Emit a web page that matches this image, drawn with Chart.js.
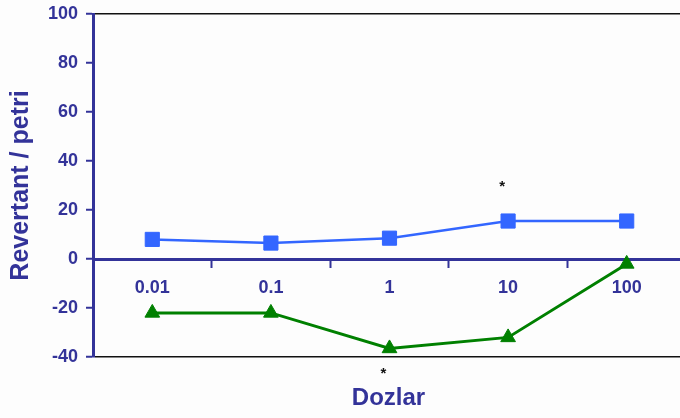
<!DOCTYPE html>
<html>
<head>
<meta charset="utf-8">
<script src="https://cdn.jsdelivr.net/npm/chart.js@4.4.1/dist/chart.umd.min.js"></script>
<style>
  html, body { margin: 0; padding: 0; background: #fdfdfd; overflow: hidden; }
  canvas { display: block; }
</style>
</head>
<body>
<canvas id="c" width="697" height="418"></canvas>
<script>
// Doses on the category axis
const doses = ['0.01', '0.1', '1', '10', '100'];
// Revertant counts per petri dish, two series
const seriesBlue = [8, 6.5, 8.5, 15.5, 15.5];
const seriesGreen = [-22, -22, -36.5, -32, -2];
// Value axis ticks
const yMin = -40;
const yMax = 100;
const yStep = 20;
// Significance marks: dose index per series
const starBlue = [3];
const starGreen = [2];

const NAVY = '#333399';
const FONT = '"Liberation Sans", Arial, sans-serif';

// Extra texts: x-axis caption and the significance asterisks
const extraText = {
  id: 'extraText',
  afterDatasetsDraw(chart) {
    const { ctx, chartArea, scales } = chart;
    ctx.save();
    ctx.fillStyle = NAVY;
    ctx.font = 'bold 24px ' + FONT;
    ctx.textAlign = 'center';
    ctx.textBaseline = 'alphabetic';
    ctx.fillText('Dozlar', (chartArea.left + chartArea.right) / 2 - 1, 405);

    ctx.fillStyle = '#111';
    ctx.font = 'bold 15px ' + FONT;
    ctx.textBaseline = 'middle';
    starBlue.forEach(i => {
      const x = scales.x.getPixelForValue(i);
      const y = scales.y.getPixelForValue(seriesBlue[i]);
      ctx.fillText('*', x - 6, y - 34);
    });
    starGreen.forEach(i => {
      const x = scales.x.getPixelForValue(i);
      const y = scales.y.getPixelForValue(seriesGreen[i]);
      ctx.fillText('*', x - 6, y + 25);
    });
    ctx.restore();
  }
};

new Chart(document.getElementById('c'), {
  type: 'line',
  data: {
    labels: doses,
    datasets: [
      {
        data: seriesBlue,
        borderColor: '#3366FF',
        backgroundColor: '#3366FF',
        borderWidth: 2.5,
        pointStyle: 'rect',
        pointRadius: 10,
        pointBorderWidth: 1,
        tension: 0
      },
      {
        data: seriesGreen,
        borderColor: '#008000',
        backgroundColor: '#008000',
        borderWidth: 3,
        pointStyle: 'triangle',
        pointRadius: 8.5,
        pointBorderWidth: 1,
        tension: 0
      }
    ]
  },
  options: {
    responsive: false,
    animation: false,
    layout: { padding: { top: 14, right: 4, bottom: 61, left: 0 } },
    plugins: {
      legend: { display: false },
      tooltip: { enabled: false }
    },
    scales: {
      x: {
        type: 'category',
        position: { y: 0 },
        offset: true,
        afterFit(scale) { scale.paddingLeft = 0; scale.paddingRight = 0; },
        border: { display: true, color: NAVY, width: 3 },
        grid: {
          offset: true,
          drawOnChartArea: false,
          drawTicks: true,
          tickLength: 7,
          tickColor: NAVY,
          tickWidth: 2
        },
        ticks: {
          color: NAVY,
          font: { family: FONT, size: 18, weight: 'bold' },
          padding: 11,
          maxRotation: 0
        }
      },
      y: {
        min: yMin,
        max: yMax,
        afterFit(scale) { scale.width = 93; scale.paddingTop = 0; scale.paddingBottom = 0; },
        border: { display: true, color: NAVY, width: 3 },
        grid: {
          drawOnChartArea: true,
          color: ctx => (ctx.tick && (ctx.tick.value === yMax || ctx.tick.value === yMin)) ? '#111' : 'rgba(0,0,0,0)',
          lineWidth: 1.5,
          drawTicks: true,
          tickLength: 7,
          tickColor: NAVY,
          tickWidth: 2
        },
        ticks: {
          stepSize: yStep,
          color: NAVY,
          font: { family: FONT, size: 18, weight: 'bold' },
          padding: 8
        },
        title: {
          display: true,
          text: 'Revertant / petri',
          color: NAVY,
          font: { family: FONT, size: 25, weight: 'bold' },
          padding: { top: 6, bottom: 0 }
        }
      }
    }
  },
  plugins: [extraText]
});
</script>
</body>
</html>
